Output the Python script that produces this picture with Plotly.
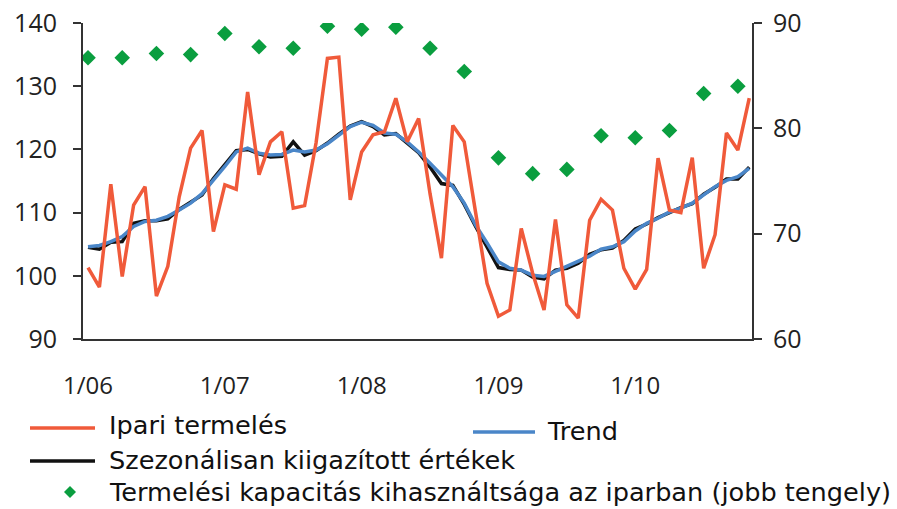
import plotly.graph_objects as go

# ---- data (monthly, 1/06 .. 11/10) ----
ipari = [101.3, 98.2, 114.5, 99.9, 111.2, 114.1, 96.8, 101.5, 112.5, 120.2, 123.0, 107.0,
         114.4, 113.7, 129.1, 116.0, 121.2, 122.8, 110.7, 111.1, 121.0, 134.4, 134.6, 112.0,
         119.6, 122.3, 122.8, 128.1, 121.2, 124.9, 113.0, 102.8, 123.8, 121.2, 110.0, 98.8,
         93.6, 94.6, 107.5, 100.4, 94.6, 108.9, 95.4, 93.3, 108.8, 112.1, 110.4, 101.2,
         97.9, 101.0, 118.6, 110.4, 110.0, 118.7, 101.2, 106.5, 122.6, 119.9, 128.1]
trend = [104.6, 104.8, 105.4, 106.2, 107.8, 108.6, 108.8, 109.4, 110.4, 111.5, 113.0, 115.1,
         117.3, 119.6, 120.2, 119.4, 119.1, 119.2, 119.9, 119.6, 119.9, 120.9, 122.3, 123.6,
         124.3, 123.8, 122.6, 122.4, 121.2, 119.6, 117.8, 115.9, 114.1, 111.5, 108.0, 105.2,
         102.2, 101.2, 100.9, 100.1, 99.9, 100.7, 101.5, 102.2, 103.1, 104.2, 104.6, 105.4,
         107.1, 108.3, 109.1, 110.1, 110.7, 111.5, 112.8, 114.1, 115.1, 115.7, 117.0]
szezonalis = [104.5, 104.2, 105.3, 105.4, 108.3, 108.7, 108.7, 109.0, 110.5, 111.6, 112.8, 115.4,
              117.5, 119.8, 120.0, 119.3, 118.8, 118.9, 121.2, 119.1, 119.8, 121.0, 122.4, 123.7,
              124.4, 123.6, 122.3, 122.5, 121.0, 119.5, 117.2, 114.6, 114.3, 111.3, 107.8, 104.6,
              101.3, 101.0, 100.9, 99.8, 99.5, 100.9, 101.2, 102.0, 103.4, 104.1, 104.4, 105.6,
              107.4, 108.2, 109.2, 110.0, 110.8, 111.4, 112.9, 114.0, 115.3, 115.3, 117.2]
kapacitas = [86.7, 86.7, 87.1, 87.0, 89.0, 87.75, 87.6, 89.7, 89.4, 89.6,
             87.6, 85.4, 77.2, 75.7, 76.1, 79.3, 79.1, 79.8, 83.3, 84.0]
tick_vals = [0, 12, 24, 36, 48]
tick_text = ["1/06", "1/07", "1/08", "1/09", "1/10"]

names = ["Ipari termelés", "Trend", "Szezonálisan kiigazított értékek",
         "Termelési kapacitás kihasználtsága az iparban (jobb tengely)"]

months = list(range(len(ipari)))
quarters = months[::3][:len(kapacitas)]

ORANGE = "#F05A3A"
BLUE = "#4A86C8"
BLACK = "#111111"
GREEN = "#0A9E3F"
AXIS = "#333333"
FONT = "Open Sans"
LEGEND_FONT = "DejaVu Sans"

W, H = 897, 509
ML, MR, MT, MB = 83, 145, 23, 170
PW, PH = W - ML - MR, H - MT - MB


def px(x):
    return (x - ML) / PW


def py(y):
    return (H - MB - y) / PH


fig = go.Figure()
fig.add_trace(go.Scatter(x=months, y=szezonalis, mode="lines", name=names[2],
                         line=dict(color=BLACK, width=3.5)))
fig.add_trace(go.Scatter(x=months, y=trend, mode="lines", name=names[1],
                         line=dict(color=BLUE, width=3.5)))
fig.add_trace(go.Scatter(x=months, y=ipari, mode="lines", name=names[0],
                         line=dict(color=ORANGE, width=3.5)))
fig.add_trace(go.Scatter(x=quarters, y=kapacitas, mode="markers", yaxis="y2", name=names[3],
                         marker=dict(symbol="diamond", size=12, color=GREEN)))

axis_line = dict(showline=True, linecolor=AXIS, linewidth=2, showgrid=False, zeroline=False,
                 automargin=False)

# ---- legend drawn below the plot (symbol + text) ----
shapes = []
annotations = []
legend_items = [
    (names[0], "line", ORANGE, 30, 95, 428, 107, 425),
    (names[1], "line", BLUE, 473, 535, 432, 545, 431),
    (names[2], "line", BLACK, 30, 95, 461, 107, 460),
    (names[3], "diamond", GREEN, 70, 70, 492, 107, 492),
]
for text, kind, col, x0, x1, ys, xt, yt in legend_items:
    if kind == "line":
        shapes.append(dict(type="line", xref="paper", yref="paper", x0=px(x0), x1=px(x1),
                           y0=py(ys), y1=py(ys), line=dict(color=col, width=3.5)))
    else:
        r = 6
        path = (f"M{px(x0 - r)},{py(ys)} L{px(x0)},{py(ys - r)} "
                f"L{px(x0 + r)},{py(ys)} L{px(x0)},{py(ys + r)} Z")
        shapes.append(dict(type="path", xref="paper", yref="paper", path=path,
                           fillcolor=col, line=dict(width=0)))
    annotations.append(dict(text=text, xref="paper", yref="paper", x=px(xt), y=py(yt),
                            xanchor="left", yanchor="middle", showarrow=False,
                            font=dict(family=LEGEND_FONT, size=25.6, color="#111111")))

fig.update_layout(
    width=W, height=H,
    margin=dict(l=ML, r=MR, t=MT, b=MB, autoexpand=False),
    paper_bgcolor="white", plot_bgcolor="white",
    font=dict(family=FONT, size=24, color="#222222"),
    showlegend=False,
    xaxis=dict(range=[-0.44, 58.24], tickvals=tick_vals, ticktext=tick_text,
               ticks="outside", ticklen=24, tickcolor="rgba(0,0,0,0)",
               tickfont=dict(size=24), **axis_line),
    yaxis=dict(range=[90, 140], dtick=10, ticks="outside", ticklen=8, tickwidth=2,
               tickcolor=AXIS, tickfont=dict(size=25), ticklabelstandoff=11, **axis_line),
    yaxis2=dict(range=[60, 90], dtick=10, overlaying="y", side="right", ticks="outside",
                ticklen=8, tickwidth=2, tickcolor=AXIS, tickfont=dict(size=25),
                ticklabelstandoff=6, **axis_line),
    shapes=shapes,
    annotations=annotations,
)

fig.write_html("out.html", config={"displayModeBar": False},
               post_script="document.body.style.margin='0';document.body.style.padding='0';")
